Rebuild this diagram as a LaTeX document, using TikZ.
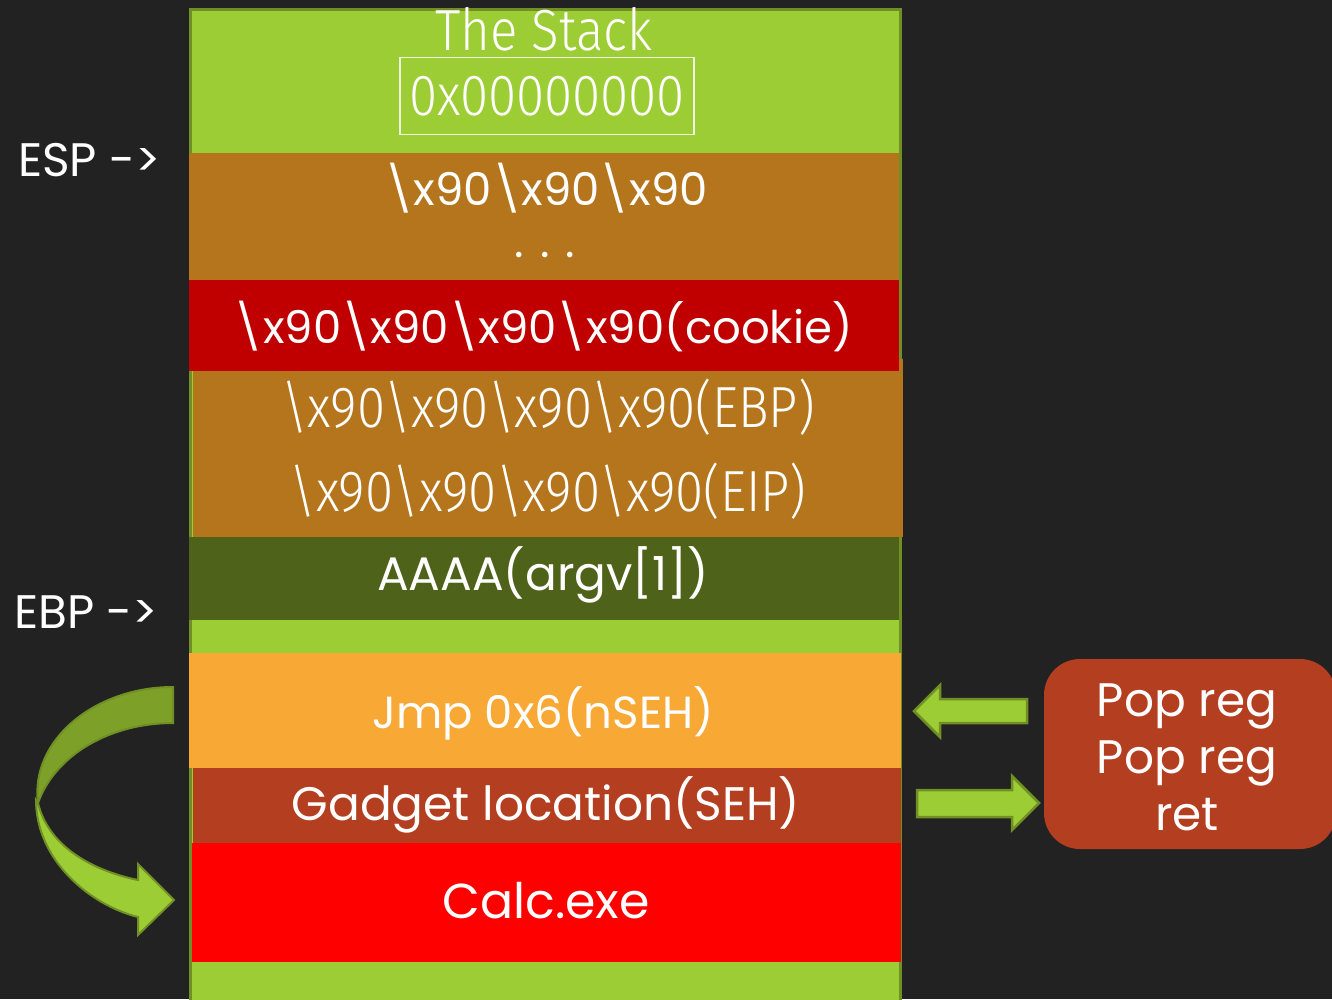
\documentclass[tikz,border=0pt]{standalone}
\usepackage{fontspec}
\setmainfont{Poppins}
\newfontfamily\condfont[FakeStretch=0.88]{Fira Sans Light}
\definecolor{bg}{RGB}{34,34,34}
\definecolor{lime}{RGB}{157,205,52}
\definecolor{limeedge}{RGB}{112,144,38}
\definecolor{limedark}{RGB}{124,160,40}
\definecolor{ochre}{RGB}{181,117,29}
\definecolor{darkred}{RGB}{192,0,0}
\definecolor{olive}{RGB}{79,98,26}
\definecolor{amber}{RGB}{248,168,53}
\definecolor{rust}{RGB}{180,62,32}
\definecolor{brightred}{RGB}{255,0,0}
\tikzset{
  layer/.style={fill=#1, draw=none},
  lbl/.style={text=white, font=\fontsize{47}{51}\selectfont, inner sep=0pt, anchor=center},
  lblsm/.style={lbl, font=\fontsize{45}{49}\selectfont},
  cond/.style={text=white, font=\condfont\fontsize{58}{62}\selectfont, inner sep=0pt, anchor=center},
  blockarrow/.style={fill=lime, draw=limeedge, line width=2.5pt, line join=miter},
}
\begin{document}
\begin{tikzpicture}[x=1pt,y=-1pt]
  % canvas
  \fill[bg] (0,0) rectangle (1332,999);
  \useasboundingbox (0,0) rectangle (1332,999);

  % stack column
  \draw[fill=lime, draw=limeedge, line width=3pt] (190,9) rectangle (900,1010);
  \fill[layer=ochre]      (189,153) rectangle (899,280);
  \fill[layer=darkred]    (189,280) rectangle (899,371);
  \fill[layer=ochre]      (193,359) rectangle (903,537);
  \fill[layer=darkred]    (189,359) rectangle (899,371);
  \fill[layer=olive]      (189,537) rectangle (899,620);
  \fill[layer=amber]      (189,653) rectangle (901,768);
  \fill[layer=rust]       (193,768) rectangle (901,843);
  \fill[layer=brightred]  (192,843) rectangle (901,962);

  % texts in the stack
  \node[cond] (title) at (544,29) {The Stack};
  \node[cond, draw=white!85!lime, line width=1.5pt, minimum width=294pt, minimum height=77pt] (top) at (547,96) {0x00000000};
  \node[lblsm] (nop) at (546,188) {\textbackslash x90\textbackslash x90\textbackslash x90};
  \node[lblsm] (dots) at (545,255) {. . .};
  \node[lblsm] (cookie) at (543,326) {\textbackslash x90\textbackslash x90\textbackslash x90\textbackslash x90(cookie)};
  \node[cond] (ebp) at (548,407) {\textbackslash x90\textbackslash x90\textbackslash x90\textbackslash x90(EBP)};
  \node[cond] (eip) at (548,491) {\textbackslash x90\textbackslash x90\textbackslash x90\textbackslash x90(EIP)};
  \node[lbl] (argv) at (543,575) {AAAA(argv[1])};
  \node[lblsm] (nseh) at (543,713) {Jmp 0x6(nSEH)};
  \node[lbl] (seh) at (546,805) {Gadget location(SEH)};
  \node[lbl, font=\fontsize{49}{53}\selectfont] (calc) at (546,901) {Calc.exe};

  % register pointers
  \node[lbl, anchor=west] (esp) at (18,160) {ESP ->};
  \node[lbl, anchor=west] (ebpptr) at (14,612) {EBP ->};

  % gadget box
  \node[fill=rust, rounded corners=36pt, minimum width=292pt, minimum height=190pt, inner sep=0pt] (gadget) at (1190,754) {};
  \node[lbl, align=center, font=\fontsize{47}{57}\selectfont] (gtext) at (1187,757) {Pop reg\\Pop reg\\ret};

  % arrow back into nSEH
  \draw[blockarrow] (1027,699) -- (940,699) -- (940,685) -- (914,711) -- (940,737) -- (940,723) -- (1027,723) -- cycle;
  % arrow from SEH out to the gadget
  \draw[blockarrow] (917,790) -- (1012,790) -- (1012,776) -- (1039,803) -- (1012,830) -- (1012,817) -- (917,817) -- cycle;

  % curved jump from nSEH down to the shellcode
  \draw[fill=limedark, draw=limeedge, line width=2pt]
    (173,687) -- (173,723)
    .. controls (110,723) and (55,755) .. (38,803)
    .. controls (30,740) and (95,687) .. (173,687) -- cycle;
  \draw[fill=lime, draw=limeedge, line width=2pt]
    (36,800) .. controls (36,860) and (90,905) .. (138,917)
    -- (138,935) -- (174,900) -- (138,864) -- (138,880)
    .. controls (90,870) and (48,845) .. (38,803) -- cycle;
\end{tikzpicture}
\end{document}
